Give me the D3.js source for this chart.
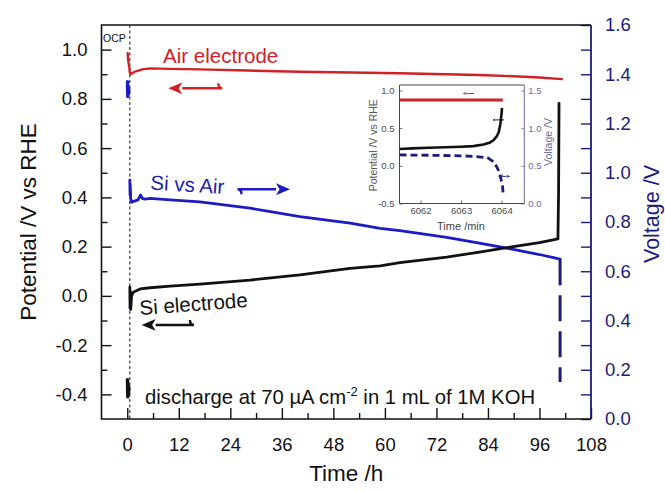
<!DOCTYPE html>
<html>
<head>
<meta charset="utf-8">
<script src="https://cdn.jsdelivr.net/npm/d3@7"></script>
<style>
  html, body { margin: 0; padding: 0; background: #fff; }
  svg { display: block; font-family: "Liberation Sans", Arial, sans-serif; }
</style>
</head>
<body>
<svg id="chart" width="665" height="490"></svg>
<script>
// ---------------- data ----------------
// axis ticks
const timeTicks = [0, 12, 24, 36, 48, 60, 72, 84, 96, 108];
const timeMinorTicks = [6, 18, 30, 42, 54, 66, 78, 90, 102];
const potentialTicks = [-0.4, -0.2, 0.0, 0.2, 0.4, 0.6, 0.8, 1.0];
const potentialMinorTicks = [-0.3, -0.1, 0.1, 0.3, 0.5, 0.7, 0.9];
const voltageTicks = [0.0, 0.2, 0.4, 0.6, 0.8, 1.0, 1.2, 1.4, 1.6];
const voltageMinorTicks = [0.1, 0.3, 0.5, 0.7, 0.9, 1.1, 1.3, 1.5];

// open-circuit period (h) just before the discharge starts
const ocpTime = [0.05, 0.12, 0.2, 0.28, 0.36];
const siOcpPotential = [-0.34, -0.41, -0.36, -0.40, -0.37];
const cellOcpVoltage = [1.37, 1.31, 1.35, 1.32, 1.34];
const dischargeStart = 0.6;

// air electrode potential (V vs RHE)
const airTime = [0.1, 0.2, 0.35, 0.5, 0.6, 0.8, 1.2, 2, 3.5, 5.3, 10, 16.9, 28, 40.2, 52, 63.5, 74, 82, 90, 96, 101.2];
const airPotential = [0.985, 0.96, 0.94, 0.925, 0.905, 0.90, 0.905, 0.912, 0.92, 0.924, 0.922, 0.920, 0.915, 0.910, 0.907, 0.904, 0.900, 0.897, 0.892, 0.887, 0.880];

// Si electrode potential (V vs RHE) during discharge
const siTime = [0.6, 0.65, 0.7, 0.8, 1.0, 1.4, 2, 3, 5.3, 10, 16.9, 28.6, 40.2, 51.9, 58.9, 63.5, 74.4, 82, 89.9, 96, 100.3, 100.45, 100.55];
const siPotential = [0.035, -0.05, 0.02, -0.055, 0.0, 0.015, 0.02, 0.028, 0.033, 0.04, 0.048, 0.064, 0.085, 0.112, 0.122, 0.135, 0.157, 0.178, 0.200, 0.216, 0.231, 0.42, 0.782];

// Si vs air cell voltage (V) during discharge
const cellTime = [0.6, 0.65, 0.7, 0.8, 1.0, 1.5, 2.5, 3.1, 3.5, 4.2, 5.3, 10, 16.9, 28.6, 40.2, 51.9, 58.9, 63.5, 74.4, 82, 89.9, 96, 100.8];
const cellVoltage = [0.97, 0.91, 0.95, 0.895, 0.88, 0.884, 0.89, 0.91, 0.896, 0.893, 0.896, 0.890, 0.882, 0.856, 0.822, 0.795, 0.774, 0.765, 0.738, 0.714, 0.689, 0.668, 0.649];
// final voltage collapse
const cutoffTime = [100.8, 100.8];
const cutoffVoltage = [0.649, 0.15];

// inset: end of discharge (min)
const insetTimeTicks = [6062, 6063, 6064];
const insetPotentialTicks = [-0.5, 0.0, 0.5, 1.0];
const insetVoltageTicks = [0.0, 0.5, 1.0, 1.5];
const insetAirTime = [6061.48, 6064.03];
const insetAirPotential = [0.875, 0.875];
const insetSiTime = [6061.48, 6061.8, 6062.2, 6062.6, 6063.0, 6063.3, 6063.55, 6063.7, 6063.8, 6063.88, 6063.93, 6063.97, 6064.0, 6064.01];
const insetSiPotential = [0.224, 0.232, 0.240, 0.247, 0.254, 0.262, 0.284, 0.305, 0.34, 0.39, 0.45, 0.56, 0.70, 0.77];
const insetCellTime = [6061.48, 6062.0, 6062.5, 6063.0, 6063.35, 6063.65, 6063.82, 6063.94, 6064.02, 6064.04];
const insetCellVoltage = [0.645, 0.642, 0.638, 0.633, 0.625, 0.608, 0.547, 0.422, 0.246, 0.113];

// ---------------- colours ----------------
const RED = "#cf2127";
const BLUE = "#1c1cc4";
const NAVY = "#1b1b7c";
const BLACK = "#111111";

// ---------------- layout ----------------
const svg = d3.select("#chart");
const P = { left: 101.5, right: 591, top: 25, bottom: 419 };

const x = d3.scaleLinear().domain([-6, 108]).range([P.left, P.right]);
const yL = d3.scaleLinear().domain([-0.5, 1.1]).range([P.bottom, P.top]);
const yR = d3.scaleLinear().domain([0, 1.6]).range([P.bottom, P.top]);

const zip = (a, b) => a.map((d, i) => [d, b[i]]);

function styleAxis(g, color, size) {
  g.attr("font-size", null).attr("font-family", null);
  g.select(".domain").remove();
  g.selectAll(".tick line").attr("stroke", color).attr("stroke-width", 1.4);
  g.selectAll(".tick text").attr("fill", color).style("font-size", size + "px");
}

// bottom axis
const gxMinor = svg.append("g").attr("transform", `translate(0,${P.bottom})`)
  .call(d3.axisBottom(x).tickValues(timeMinorTicks).tickSize(-6).tickFormat(""));
styleAxis(gxMinor, BLACK, 18.5);
const gx = svg.append("g").attr("transform", `translate(0,${P.bottom})`)
  .call(d3.axisBottom(x).tickValues(timeTicks).tickSize(-11).tickPadding(19).tickFormat(d3.format("d")));
styleAxis(gx, BLACK, 18.5);

// left axis
const gyMinor = svg.append("g").attr("transform", `translate(${P.left},0)`)
  .call(d3.axisLeft(yL).tickValues(potentialMinorTicks).tickSize(-6).tickFormat(""));
styleAxis(gyMinor, BLACK, 18.5);
const gy = svg.append("g").attr("transform", `translate(${P.left},0)`)
  .call(d3.axisLeft(yL).tickValues(potentialTicks).tickSize(-10).tickPadding(14).tickFormat(d3.format(".1f")));
styleAxis(gy, BLACK, 18.5);
gy.selectAll(".tick text").text(d => d3.format(".1f")(d).replace("−", "-"));

// right axis
const grMinor = svg.append("g").attr("transform", `translate(${P.right},0)`)
  .call(d3.axisRight(yR).tickValues(voltageMinorTicks).tickSize(-10).tickFormat(""));
styleAxis(grMinor, NAVY, 18.5);
const gr = svg.append("g").attr("transform", `translate(${P.right},0)`)
  .call(d3.axisRight(yR).tickValues(voltageTicks).tickSize(-10).tickPadding(14).tickFormat(d3.format(".1f")));
styleAxis(gr, NAVY, 18.5);

// frame
svg.append("path")
  .attr("d", `M${P.right},${P.top}H${P.left}V${P.bottom}H${P.right}`)
  .attr("fill", "none").attr("stroke", BLACK).attr("stroke-width", 1.6);
svg.append("line")
  .attr("x1", P.right).attr("x2", P.right).attr("y1", P.top).attr("y2", P.bottom)
  .attr("stroke", NAVY).attr("stroke-width", 1.8);

// axis titles
svg.append("text")
  .attr("transform", `translate(36,${(P.top + P.bottom) / 2}) rotate(-90)`)
  .attr("text-anchor", "middle").attr("fill", BLACK).style("font-size", "22.5px")
  .text("Potential /V vs RHE");
svg.append("text")
  .attr("transform", `translate(659,214) rotate(-90)`)
  .attr("text-anchor", "middle").attr("fill", NAVY).style("font-size", "21.5px")
  .text("Voltage /V");
svg.append("text")
  .attr("x", (P.left + P.right) / 2).attr("y", 481)
  .attr("text-anchor", "middle").attr("fill", BLACK).style("font-size", "22.5px")
  .text("Time /h");

// start of discharge marker
svg.append("line")
  .attr("x1", x(dischargeStart)).attr("x2", x(dischargeStart))
  .attr("y1", P.top).attr("y2", P.bottom)
  .attr("stroke", BLACK).attr("stroke-width", 1).attr("stroke-dasharray", "3,2.5");
svg.append("text")
  .attr("x", P.left + 1.5).attr("y", 41.5)
  .attr("fill", BLACK).style("font-size", "10.5px")
  .text("OCP");

// ---------------- series ----------------
const lineL = d3.line().x(d => x(d[0])).y(d => yL(d[1]));
const lineR = d3.line().x(d => x(d[0])).y(d => yR(d[1]));

function drawSeries(path, data, color, width, dash) {
  svg.append("path").datum(data).attr("d", path)
    .attr("fill", "none").attr("stroke", color).attr("stroke-width", width)
    .attr("stroke-linejoin", "round").attr("stroke-linecap", dash ? "butt" : "round")
    .attr("stroke-dasharray", dash || null);
}

drawSeries(lineR, zip(cellTime, cellVoltage), BLUE, 2.8);
drawSeries(lineR, zip(cutoffTime, cutoffVoltage), NAVY, 3, "26,10");
drawSeries(lineR, zip(ocpTime, cellOcpVoltage), BLUE, 3.4);
drawSeries(lineL, zip(siTime, siPotential), BLACK, 2.8);
drawSeries(lineL, zip(ocpTime, siOcpPotential), BLACK, 3.4);
drawSeries(lineL, zip(airTime, airPotential), RED, 2.4);

// ---------------- annotations ----------------
function arrow(g, x1, x2, y, hook, color, w, head) {
  const dir = Math.sign(x2 - x1);
  const hb = x2 - dir * head;
  g.append("path")
    .attr("d", `M${x1},${y + hook}Q${x1},${y} ${x1 - dir * 4},${y}L${hb},${y}`)
    .attr("fill", "none").attr("stroke", color).attr("stroke-width", w);
  g.append("path")
    .attr("d", `M${x2},${y}L${hb},${y - head * 0.42}L${hb + dir * head * 0.25},${y}L${hb},${y + head * 0.42}Z`)
    .attr("fill", color);
}

svg.append("text").attr("x", x(8.35)).attr("y", yL(0.946))
  .attr("fill", RED).style("font-size", "20.5px").text("Air electrode");
arrow(svg, x(21.2), x(9.55), yL(0.843), -5, RED, 2.4, 14);

svg.append("text")
  .attr("transform", `translate(${x(5.3)},${yR(0.932)}) rotate(3.5)`)
  .attr("fill", "#2424a8").style("font-size", "20.5px").text("Si vs Air");
arrow(svg, x(26.6), x(37.9), yR(0.933), 5, BLUE, 2.4, 14);

svg.append("text")
  .attr("transform", `translate(${x(2.98)},${yL(-0.078)}) rotate(-4.3)`)
  .attr("fill", BLACK).style("font-size", "20.5px").text("Si electrode");
arrow(svg, x(14.6), x(3.35), yL(-0.118), -5, BLACK, 2.4, 14);

const note = svg.append("text").attr("x", x(4.15)).attr("y", yL(-0.439))
  .attr("fill", BLACK).style("font-size", "20.3px");
note.append("tspan").text("discharge at 70 µA cm");
note.append("tspan").attr("dy", -8).style("font-size", "13px").text("-2");
note.append("tspan").attr("dy", 8).text(" in 1 mL of 1M KOH");

// ---------------- inset ----------------
const I = { left: 399.5, right: 524.3, top: 85, bottom: 203.5 };
const ix = d3.scaleLinear().domain([6061.48, 6064.56]).range([I.left, I.right]);
const iyL = d3.scaleLinear().domain([-0.5, 1.073]).range([I.bottom, I.top]);
const iyR = d3.scaleLinear().domain([0, 1.573]).range([I.bottom, I.top]);
const INSET_GRAY = "#4a4a4a";
const INSET_BLUE = "#6a6a9c";

const inset = svg.append("g");
inset.append("rect").attr("x", I.left).attr("y", I.top)
  .attr("width", I.right - I.left).attr("height", I.bottom - I.top)
  .attr("fill", "#fff");

function insetAxis(axis, tx, ty, color) {
  const g = inset.append("g").attr("transform", `translate(${tx},${ty})`).call(axis);
  g.attr("font-size", null).attr("font-family", null);
  g.select(".domain").remove();
  g.selectAll(".tick line").attr("stroke", color).attr("stroke-width", 0.8);
  g.selectAll(".tick text").attr("fill", color).style("font-size", "9.5px");
  return g;
}
insetAxis(d3.axisBottom(ix).tickValues(insetTimeTicks).tickSize(-3).tickPadding(4).tickFormat(d3.format("d")), 0, I.bottom, INSET_GRAY);
const ily = insetAxis(d3.axisLeft(iyL).tickValues(insetPotentialTicks).tickSize(-3).tickPadding(5).tickFormat(d3.format(".1f")), I.left, 0, INSET_GRAY);
insetAxis(d3.axisRight(iyR).tickValues(insetVoltageTicks).tickSize(-3).tickPadding(4).tickFormat(d3.format(".1f")), I.right, 0, INSET_BLUE);
ily.selectAll(".tick text").text(d => d3.format(".1f")(d).replace("−", "-"));

inset.append("path")
  .attr("d", `M${I.right},${I.top}H${I.left}V${I.bottom}H${I.right}`)
  .attr("fill", "none").attr("stroke", INSET_GRAY).attr("stroke-width", 1);
inset.append("line").attr("x1", I.right).attr("x2", I.right).attr("y1", I.top).attr("y2", I.bottom)
  .attr("stroke", INSET_BLUE).attr("stroke-width", 1);

inset.append("text")
  .attr("transform", `translate(377,${(I.top + I.bottom) / 2 + 1}) rotate(-90)`)
  .attr("text-anchor", "middle").attr("fill", "#555").style("font-size", "10.5px")
  .text("Potential /V vs RHE");
inset.append("text")
  .attr("transform", `translate(552,142) rotate(-90)`)
  .attr("text-anchor", "middle").attr("fill", INSET_BLUE).style("font-size", "10.5px")
  .text("Voltage /V");
inset.append("text")
  .attr("x", 461).attr("y", 229.5)
  .attr("text-anchor", "middle").attr("fill", "#444").style("font-size", "11px")
  .text("Time /min");

const iLineL = d3.line().x(d => ix(d[0])).y(d => iyL(d[1]));
const iLineR = d3.line().x(d => ix(d[0])).y(d => iyR(d[1]));
inset.append("path").datum(zip(insetAirTime, insetAirPotential)).attr("d", iLineL)
  .attr("fill", "none").attr("stroke", RED).attr("stroke-width", 3);
inset.append("path").datum(zip(insetSiTime, insetSiPotential)).attr("d", iLineL)
  .attr("fill", "none").attr("stroke", BLACK).attr("stroke-width", 2.6).attr("stroke-linejoin", "round");
inset.append("path").datum(zip(insetCellTime, insetCellVoltage)).attr("d", iLineR)
  .attr("fill", "none").attr("stroke", NAVY).attr("stroke-width", 2.8)
  .attr("stroke-dasharray", "7,4");

// small direction arrows in the inset
arrow(inset, ix(6063.22), ix(6063.04), iyL(0.96), 0, RED, 0.9, 3.5);
arrow(inset, ix(6063.95), ix(6063.77), iyL(0.61), 0, BLACK, 0.9, 3.5);
arrow(inset, ix(6064.03), ix(6064.21), iyR(0.36), -2, NAVY, 0.9, 3.5);
</script>
</body>
</html>
